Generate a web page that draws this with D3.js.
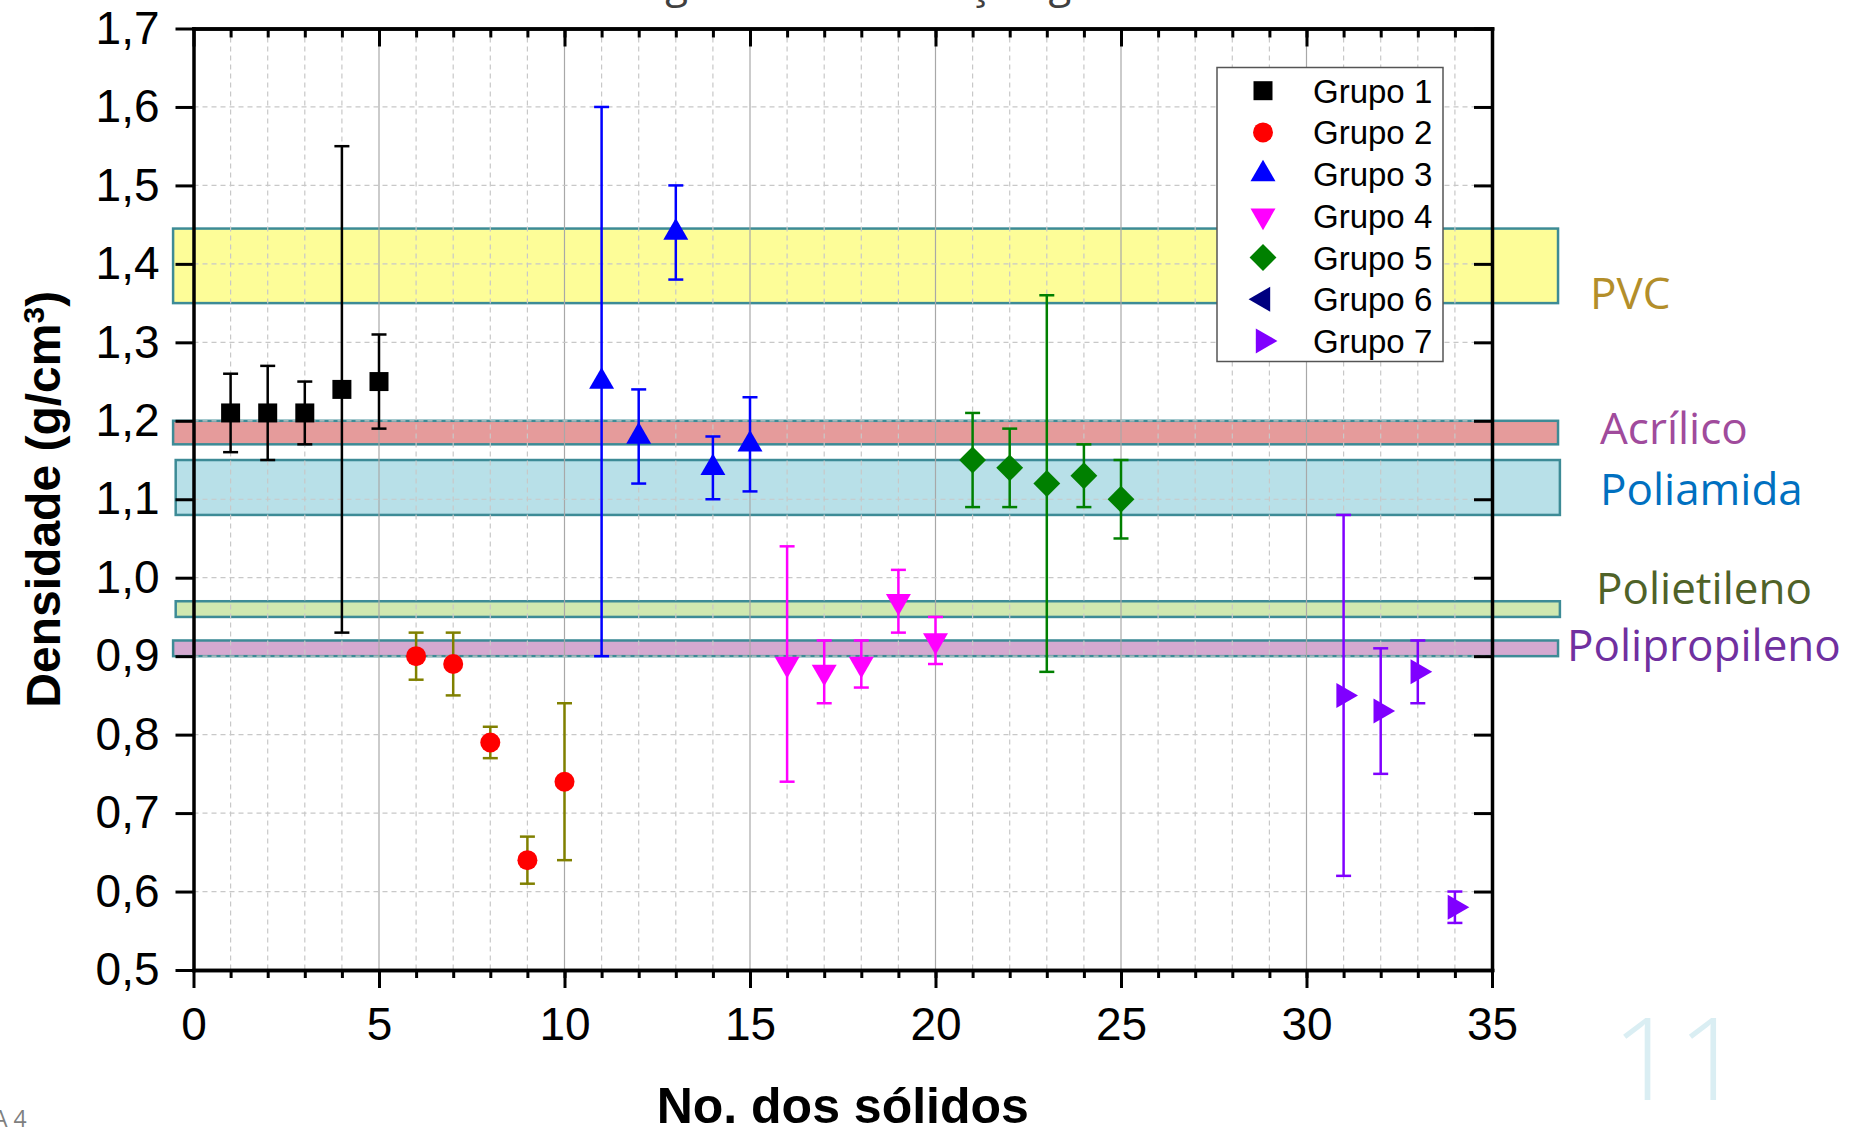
<!DOCTYPE html>
<html lang="pt">
<head>
<meta charset="utf-8">
<title>Densidade dos sólidos</title>
<script src="https://cdn.jsdelivr.net/npm/d3@7.9.0/dist/d3.min.js"></script>
<style>
  html, body { margin: 0; padding: 0; background: #fff; }
  svg { display: block; }
  .axis text { font-family: "Liberation Sans", Arial, sans-serif; font-size: 46px; fill: #000; }
</style>
</head>
<body>
<svg id="chart" width="1861" height="1129"></svg>
<script>
// --- data ---
const groupNames = ['Grupo 1', 'Grupo 2', 'Grupo 3', 'Grupo 4', 'Grupo 5', 'Grupo 6', 'Grupo 7'];

const g1x = [1, 2, 3, 4, 5];
const g1y = [1.21, 1.21, 1.21, 1.24, 1.25];
const g1lo = [1.16, 1.15, 1.17, 0.93, 1.19];
const g1hi = [1.26, 1.27, 1.25, 1.55, 1.31];

const g2x = [6, 7, 8, 9, 10];
const g2y = [0.90, 0.89, 0.79, 0.64, 0.74];
const g2lo = [0.87, 0.85, 0.77, 0.61, 0.64];
const g2hi = [0.93, 0.93, 0.81, 0.67, 0.84];

const g3x = [11, 12, 13, 14, 15];
const g3y = [1.25, 1.18, 1.44, 1.14, 1.17];
const g3lo = [0.90, 1.12, 1.38, 1.10, 1.11];
const g3hi = [1.60, 1.24, 1.50, 1.18, 1.23];

const g4x = [16, 17, 18, 19, 20];
const g4y = [0.89, 0.88, 0.89, 0.97, 0.92];
const g4lo = [0.74, 0.84, 0.86, 0.93, 0.89];
const g4hi = [1.04, 0.92, 0.92, 1.01, 0.95];

const g5x = [21, 22, 23, 24, 25];
const g5y = [1.15, 1.14, 1.12, 1.13, 1.10];
const g5lo = [1.09, 1.09, 0.88, 1.09, 1.05];
const g5hi = [1.21, 1.19, 1.36, 1.17, 1.15];

// Grupo 6 only shows up in the legend
const g6x = [];
const g6y = [];
const g6lo = [];
const g6hi = [];

const g7x = [31, 32, 33, 34];
const g7y = [0.85, 0.83, 0.88, 0.58];
const g7lo = [0.62, 0.75, 0.84, 0.56];
const g7hi = [1.08, 0.91, 0.92, 0.60];

const materials = ['PVC', 'Acrílico', 'Poliamida', 'Polietileno', 'Polipropileno'];
const materialLo = [1.35, 1.17, 1.08, 0.95, 0.90];
const materialHi = [1.445, 1.20, 1.15, 0.97, 0.92];

const xTickValues = [0, 5, 10, 15, 20, 25, 30, 35];
const yTickValues = [0.5, 0.6, 0.7, 0.8, 0.9, 1.0, 1.1, 1.2, 1.3, 1.4, 1.5, 1.6, 1.7];

// --- styles ---
const groupStyle = [
  { fill: '#000000', bar: '#000000', type: d3.symbolSquare, size: 361, rot: 0 },
  { fill: '#ff0000', bar: '#808000', type: d3.symbolCircle, size: 314, rot: 0 },
  { fill: '#0000ff', bar: '#0000ff', type: d3.symbolTriangle, size: 270, rot: 0 },
  { fill: '#ff00ff', bar: '#ff00ff', type: d3.symbolTriangle, size: 270, rot: 180 },
  { fill: '#008000', bar: '#008000', type: d3.symbolSquare, size: 361, rot: 45 },
  { fill: '#000080', bar: '#000080', type: d3.symbolTriangle, size: 270, rot: -90 },
  { fill: '#8000ff', bar: '#8000ff', type: d3.symbolTriangle, size: 270, rot: 90 },
];

const bandStyle = [
  { fill: '#fdfd98', x0: -0.55, x1: 36.78, color: '#b38e2a', lx: 1590, ly: 309 },
  { fill: '#e59b9b', x0: -0.55, x1: 36.78, color: '#a04b9c', lx: 1600, ly: 444 },
  { fill: '#b8e0e8', x0: -0.48, x1: 36.83, color: '#0070c0', lx: 1600, ly: 505 },
  { fill: '#d0e8b0', x0: -0.48, x1: 36.83, color: '#4f6228', lx: 1596, ly: 604 },
  { fill: '#d4a9d0', x0: -0.55, x1: 36.78, color: '#7030a0', lx: 1567, ly: 661 },
];

const svg = d3.select('#chart');
const W = 1861, H = 1129;
svg.append('rect').attr('width', W).attr('height', H).attr('fill', '#fff');

const x = d3.scaleLinear().domain([0, 35]).range([193.5, 1492]);
const y = d3.scaleLinear().domain([0.5, 1.7]).range([970, 28.5]);

const comma = d3.formatLocale({ decimal: ',', thousands: '.', grouping: [3], currency: ['', ''] });
const fmtY = comma.format('.1f');

const groups = [
  { x: g1x, y: g1y, lo: g1lo, hi: g1hi },
  { x: g2x, y: g2y, lo: g2lo, hi: g2hi },
  { x: g3x, y: g3y, lo: g3lo, hi: g3hi },
  { x: g4x, y: g4y, lo: g4lo, hi: g4hi },
  { x: g5x, y: g5y, lo: g5lo, hi: g5hi },
  { x: g6x, y: g6y, lo: g6lo, hi: g6hi },
  { x: g7x, y: g7y, lo: g7lo, hi: g7hi },
].map((g, gi) => ({
  name: groupNames[gi],
  style: groupStyle[gi],
  points: g.x.map((xv, i) => ({ x: xv, y: g.y[i], lo: g.lo[i], hi: g.hi[i] })),
}));

// title, mostly off the top of the slide
svg.append('text')
  .attr('x', 591).attr('y', -2)
  .attr('font-family', '"Open Sans", sans-serif')
  .attr('font-size', 42)
  .attr('fill', '#404040')
  .text('Triagem e classificação geral');

// --- reference bands ---
const bands = materials.map((m, i) => ({ name: m, lo: materialLo[i], hi: materialHi[i], ...bandStyle[i] }));

svg.append('g')
  .selectAll('rect')
  .data(bands)
  .join('rect')
  .attr('x', (d) => x(d.x0))
  .attr('width', (d) => x(d.x1) - x(d.x0))
  .attr('y', (d) => y(d.hi))
  .attr('height', (d) => y(d.lo) - y(d.hi))
  .attr('fill', (d) => d.fill)
  .attr('stroke', '#3d8b96')
  .attr('stroke-width', 2.5);

svg.append('g')
  .selectAll('text')
  .data(bands)
  .join('text')
  .attr('x', (d) => d.lx)
  .attr('y', (d) => d.ly)
  .attr('font-family', '"Open Sans", sans-serif')
  .attr('font-size', 44)
  .attr('fill', (d) => d.color)
  .text((d) => d.name);

// --- grid ---
const grid = svg.append('g');
const xMinor = d3.range(1, 35);
grid.selectAll('line.vx')
  .data(xMinor)
  .join('line')
  .attr('class', 'vx')
  .attr('x1', (d) => x(d)).attr('x2', (d) => x(d))
  .attr('y1', y(1.7)).attr('y2', y(0.5))
  .attr('stroke', (d) => (d % 5 === 0 ? '#a8a8a8' : '#c8c8c8'))
  .attr('stroke-width', 1.2)
  .attr('stroke-dasharray', (d) => (d % 5 === 0 ? null : '5,4'));

grid.selectAll('line.hy')
  .data(yTickValues.slice(1, -1))
  .join('line')
  .attr('class', 'hy')
  .attr('x1', x(0)).attr('x2', x(35))
  .attr('y1', (d) => y(d)).attr('y2', (d) => y(d))
  .attr('stroke', '#c8c8c8')
  .attr('stroke-width', 1.2)
  .attr('stroke-dasharray', '5,4');

// --- axes ---
function styleAxis(g, width) {
  g.attr('class', 'axis');
  g.selectAll('line').attr('stroke', '#000').attr('stroke-width', width);
  g.selectAll('path.domain').attr('stroke', '#000').attr('stroke-width', 3.5).attr('stroke-linecap', 'square');
}

svg.append('g')
  .attr('transform', `translate(0,${y(0.5)})`)
  .call(d3.axisBottom(x).tickValues(xMinor).tickSize(8).tickSizeOuter(0).tickFormat(''))
  .call((g) => styleAxis(g, 3));
svg.append('g')
  .attr('transform', `translate(0,${y(0.5)})`)
  .call(d3.axisBottom(x).tickValues(xTickValues).tickSize(18).tickSizeOuter(0).tickPadding(19))
  .call((g) => styleAxis(g, 3));

svg.append('g')
  .attr('transform', `translate(0,${y(1.7)})`)
  .call(d3.axisTop(x).tickValues(xMinor).tickSize(-9).tickSizeOuter(0).tickFormat(''))
  .call((g) => styleAxis(g, 3));
svg.append('g')
  .attr('transform', `translate(0,${y(1.7)})`)
  .call(d3.axisTop(x).tickValues(xTickValues).tickSize(-18).tickSizeOuter(0).tickFormat(''))
  .call((g) => styleAxis(g, 3));

svg.append('g')
  .attr('transform', `translate(${x(0)},0)`)
  .call(d3.axisLeft(y).tickValues(yTickValues).tickSize(18).tickSizeOuter(0).tickPadding(16).tickFormat(fmtY))
  .call((g) => styleAxis(g, 3));
svg.append('g')
  .attr('transform', `translate(${x(35)},0)`)
  .call(d3.axisRight(y).tickValues(yTickValues).tickSize(-18).tickSizeOuter(0).tickFormat(''))
  .call((g) => styleAxis(g, 3));

// --- error bars and markers ---
const cap = 7.5;
groups.forEach((grp) => {
  const g = svg.append('g');
  const bars = g.selectAll('g.err').data(grp.points).join('g').attr('class', 'err')
    .attr('stroke', grp.style.bar).attr('stroke-width', 2.5);
  bars.append('line')
    .attr('x1', (d) => x(d.x)).attr('x2', (d) => x(d.x))
    .attr('y1', (d) => y(d.lo)).attr('y2', (d) => y(d.hi));
  bars.append('line')
    .attr('x1', (d) => x(d.x) - cap).attr('x2', (d) => x(d.x) + cap)
    .attr('y1', (d) => y(d.lo)).attr('y2', (d) => y(d.lo));
  bars.append('line')
    .attr('x1', (d) => x(d.x) - cap).attr('x2', (d) => x(d.x) + cap)
    .attr('y1', (d) => y(d.hi)).attr('y2', (d) => y(d.hi));

  g.selectAll('path.mk').data(grp.points).join('path').attr('class', 'mk')
    .attr('d', d3.symbol().type(grp.style.type).size(grp.style.size))
    .attr('transform', (d) => `translate(${x(d.x)},${y(d.y)}) rotate(${grp.style.rot})`)
    .attr('fill', grp.style.fill);
});

// --- legend ---
const legend = svg.append('g').attr('transform', 'translate(1217,67.5)');
legend.append('rect')
  .attr('width', 226).attr('height', 294)
  .attr('fill', '#fff').attr('stroke', '#555').attr('stroke-width', 1.5);

const rows = legend.selectAll('g.row').data(groups).join('g').attr('class', 'row')
  .attr('transform', (_d, i) => `translate(0,${23.2 + i * 41.7})`);
rows.append('path')
  .attr('d', (d) => d3.symbol().type(d.style.type).size(d.style.size)())
  .attr('transform', (d) => `translate(46,0) rotate(${d.style.rot})`)
  .attr('fill', (d) => d.style.fill);
rows.append('text')
  .attr('x', 96).attr('y', 12)
  .attr('font-family', '"Liberation Sans", Arial, sans-serif')
  .attr('font-size', 33)
  .text((d) => d.name);

// --- axis titles ---
svg.append('text')
  .attr('x', (x(0) + x(35)) / 2).attr('y', 1123)
  .attr('text-anchor', 'middle')
  .attr('font-family', '"Liberation Sans", Arial, sans-serif')
  .attr('font-weight', 'bold')
  .attr('font-size', 50)
  .text('No. dos sólidos');

const yTitle = svg.append('text')
  .attr('transform', `translate(60,${(y(0.5) + y(1.7)) / 2}) rotate(-90)`)
  .attr('text-anchor', 'middle')
  .attr('font-family', '"Liberation Sans", Arial, sans-serif')
  .attr('font-weight', 'bold')
  .attr('font-size', 48);
yTitle.append('tspan').text('Densidade (g/cm');
yTitle.append('tspan').attr('baseline-shift', 'super').attr('font-size', 30).text('3');
yTitle.append('tspan').text(')');

// slide leftovers
svg.append('text')
  .attr('x', -7).attr('y', 1127)
  .attr('font-family', '"Open Sans", sans-serif')
  .attr('font-size', 23)
  .attr('fill', '#7f7f7f')
  .text('A 4');

svg.append('text')
  .attr('x', 1612).attr('y', 1100)
  .attr('font-family', '"Open Sans", sans-serif')
  .attr('font-weight', 300)
  .attr('font-size', 115)
  .attr('fill', '#daeef3')
  .text('11');
</script>
</body>
</html>
